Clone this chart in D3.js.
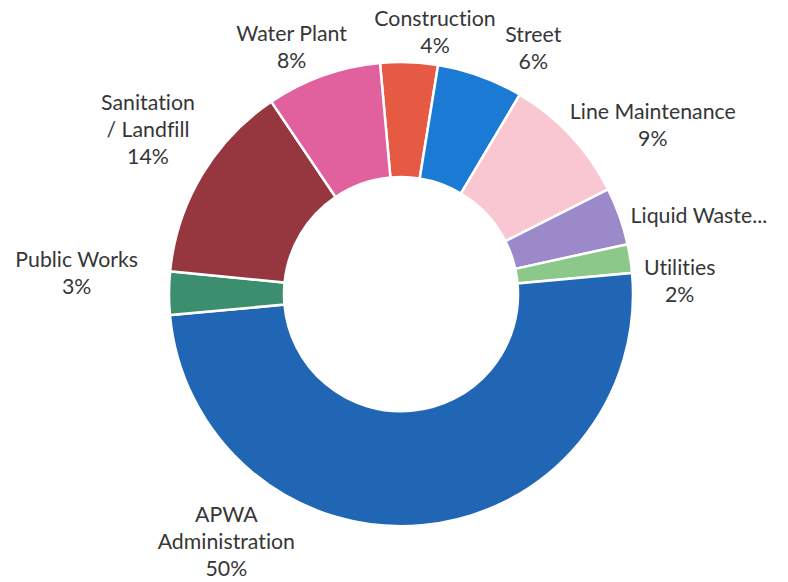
<!DOCTYPE html>
<html>
<head>
<meta charset="utf-8">
<script src="https://cdn.jsdelivr.net/npm/d3@7"></script>
<style>
  html, body { margin: 0; padding: 0; background: #ffffff; }
  svg { display: block; }
  .lbl { font-family: Lato, "Open Sans", sans-serif; fill: #363636; font-variant-ligatures: none; }
</style>
</head>
<body>
<svg id="chart" width="788" height="582"></svg>
<script>
// Department share of the budget, clockwise from the top
const categories = ["Construction", "Street", "Line Maintenance", "Liquid Waste...", "Utilities",
                    "APWA Administration", "Public Works", "Sanitation / Landfill", "Water Plant"];
const shares = [4, 6, 9, 4, 2, 50, 3, 14, 8];
// label text lines (percent shown where the chart shows one)
const labelLines = [
  ["Construction", "4%"],
  ["Street", "6%"],
  ["Line Maintenance", "9%"],
  ["Liquid Waste..."],
  ["Utilities", "2%"],
  ["APWA", "Administration", "50%"],
  ["Public Works", "3%"],
  ["Sanitation", "/ Landfill", "14%"],
  ["Water Plant", "8%"]
];
const sliceColors = ["#e65a44", "#1b7bd4", "#f8c7d1", "#9b89c9", "#8dc88b",
                     "#2166b5", "#3b8f6e", "#96373f", "#e1619e"];

// label placement: polar position of each label block (degrees clockwise from top, px)
const labelAngle = [7.4, 28.3, 56.2, 75.3, 87.4, 215.2, 273.7, 303.1, 336.1];
const labelRadius = [264, 279, 303, 308, 279, 303, 325, 302, 270];

const width = 788, height = 582;
const cx = 401, cy = 294;
const outerR = 232, innerR = 117;
const startDeg = -5.2;
const rad = d => d * Math.PI / 180;

const svg = d3.select("#chart");
const g = svg.append("g").attr("transform", `translate(${cx},${cy})`);

const pie = d3.pie()
  .sort(null)
  .value(d => d)
  .startAngle(rad(startDeg))
  .endAngle(rad(startDeg) + 2 * Math.PI);

const arc = d3.arc().innerRadius(innerR).outerRadius(outerR);

const arcs = pie(shares);

g.selectAll("path.slice")
  .data(arcs)
  .join("path")
  .attr("class", "slice")
  .attr("d", arc)
  .attr("fill", (d, i) => sliceColors[i])
  .attr("stroke", "#ffffff")
  .attr("stroke-width", 2.5)
  .attr("stroke-linejoin", "miter");

// data labels
const fontSize = 21.3, lineH = 27;
const labels = g.selectAll("text.lbl")
  .data(arcs)
  .join("text")
  .attr("class", "lbl")
  .attr("font-size", fontSize)
  .attr("text-anchor", "middle")
  .attr("transform", (d, i) => {
    const a = rad(labelAngle[i]);
    return `translate(${labelRadius[i] * Math.sin(a)},${-labelRadius[i] * Math.cos(a)})`;
  });

labels.each(function(d, i) {
  const lines = labelLines[i];
  const n = lines.length;
  d3.select(this).selectAll("tspan")
    .data(lines)
    .join("tspan")
    .attr("x", 0)
    .attr("y", (t, k) => (k - (n - 1) / 2) * lineH + fontSize * 0.35)
    .text(t => t);
});
</script>
</body>
</html>
